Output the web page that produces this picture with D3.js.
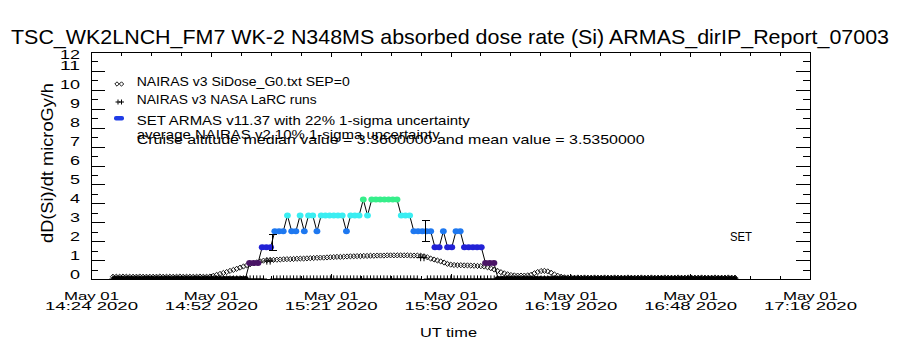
<!DOCTYPE html>
<html>
<head>
<meta charset="utf-8">
<script src="https://cdn.jsdelivr.net/npm/d3@7"></script>
<style>
  body { margin: 0; background: #fff; }
  svg { display: block; }
  text { font-family: "Liberation Sans", "DejaVu Sans", sans-serif; fill: #000; }
</style>
</head>
<body>
<svg id="chart" width="900" height="350"></svg>
<script>
// ---------------- DATA ----------------
const titleText = "TSC_WK2LNCH_FM7 WK-2 N348MS absorbed dose rate (Si) ARMAS_dirIP_Report_07003";
const yTitle = "dD(Si)/dt microGy/h";
const xTitle = "UT time";
const timeDomain = [24, 196];            // minutes after 14:00 UT
const yDomain = [0, 12];
const xTickTimes = ["14:24", "14:52", "15:21", "15:50", "16:19", "16:48", "17:16"];
const xTickDate = "May 01";
const xTickYear = "2020";
const yTickLabels = [0, 1, 2, 3, 4, 5, 6, 7, 8, 9, 10, 11, 12];

// NAIRAS v3 SiDose_G0 (diamonds), sampled every nairasStep minutes from nairasStart
const nairasStart = 29.26, nairasStep = 0.8;
const nairasValues = [
  0.12,0.12,0.12,0.13,0.12,0.12,0.12,0.12,0.13,0.12,
  0.12,0.12,0.12,0.12,0.13,0.12,0.12,0.12,0.12,0.12,
  0.13,0.12,0.12,0.12,0.12,0.12,0.13,0.12,0.12,0.13,
  0.17,0.22,0.27,0.32,0.37,0.43,0.48,0.54,0.60,0.66,
  0.72,0.78,0.83,0.88,0.93,0.97,0.99,1.00,1.01,1.02,
  1.03,1.04,1.05,1.05,1.06,1.07,1.08,1.08,1.09,1.10,
  1.11,1.12,1.13,1.13,1.14,1.15,1.16,1.17,1.17,1.18,
  1.19,1.20,1.20,1.21,1.21,1.22,1.22,1.23,1.23,1.24,
  1.24,1.24,1.25,1.25,1.25,1.25,1.25,1.25,1.25,1.24,
  1.24,1.24,1.23,1.20,1.15,1.08,1.03,0.98,0.93,0.87,
  0.80,0.76,0.74,0.73,0.73,0.72,0.72,0.71,0.70,0.69,
  0.68,0.66,0.62,0.57,0.50,0.43,0.36,0.30,0.25,0.21,
  0.19,0.18,0.18,0.18,0.19,0.22,0.30,0.37,0.42,0.43,
  0.40,0.33,0.24,0.17,0.12,0.09,0.08,0.08,0.07,0.08,
  0.07,0.08,0.07,0.07,0.08,0.07,0.07,0.08,0.07,0.07,
  0.08,0.07,0.07,0.07,0.08,0.07,0.07,0.07,0.08,0.07,
  0.07,0.08,0.07,0.07,0.07,0.08,0.07,0.07,0.07,0.08,
  0.07,0.07,0.08,0.07,0.07,0.07,0.08,0.07,0.07,0.07,
  0.08,0.07,0.07,0.07,0.08,0.07,0.07
];

// NAIRAS v3 NASA LaRC runs (pluses), same time grid as NAIRAS SiDose
const larcValues = [
  0,0,0,0,0,0,0,0,0,0,
  0,0,0,0,0,0,0,0,0,0,
  0,0,0,0,0,0,0,0,0,0,
  0,0,0,0,0,0,0,0,0,0,
  0,0,0,0,0,0,0.95,0.95,0,0,
  0,0,0,0,0,0,0,0,0,0,
  0,0,0,0,0,0,0,0,0,0,
  0,0,0,0,0,0,0,0,0,0,
  0,0,0,0,0,0,0,0,0,0,
  0,0,1.13,1.13,0,0,0,0,0,0,
  0,0,0,0,0,0,0,0,0,0,
  0,0,0,0,0,0,0,0,0,0,
  0,0,0,0,0,0,0,0,0,0,
  0,0,0,0,0,0,0,0,0,0,
  0,0,0,0,0,0,0,0,0,0,
  0,0,0,0,0,0,0,0,0,0,
  0,0,0,0,0,0,0,0,0,0,
  0,0,0,0,0,0,0,0,0,0,
  0,0,0,0,0,0,0
];

// SET ARMAS v11.37 (one record every setStep minutes from setStart)
const setStart = 29.67, setStep = 1.008;
const setValues = [
  0,0,0,0,0,0,0,0,0,0, 0,0,0,0,0,0,0,0,0,0, 0,0,0,0,0,0,0,0,0,0, 0,0,
  0.84,0.84,0.84,1.68,1.68,1.68,2.52,2.52,2.52,3.36,
  2.52,2.52,3.36,2.52,3.36,3.36,2.52,3.36,3.36,3.36,
  3.36,3.36,3.36,2.52,3.36,3.36,3.36,4.20,3.36,4.20,
  4.20,4.20,4.20,4.20,4.20,4.20,3.36,3.36,3.36,2.52,
  2.52,2.52,2.52,2.52,1.68,1.68,2.52,1.68,1.68,2.52,
  2.52,1.68,1.68,1.68,1.68,1.68,0.84,0.84,0.84,
  0,0,0,0,0,0,0,0,0,0, 0,0,0,0,0,0,0,0,0,0, 0,0,0,0,0,0,0,0,0,0,
  0,0,0,0,0,0,0,0,0,0, 0,0,0,0,0,0,0,0,0,0, 0,0,0,0,0,0,0
];
const setLevels = [0, 0.84, 1.68, 2.52, 3.36, 4.20];

// 22% 1-sigma uncertainty bars
const errTimes = [67.23, 103.9];
const errValues = [1.93, 2.52];
const errSigmas = [0.42, 0.55];

const legendLabels = [
  "NAIRAS v3 SiDose_G0.txt SEP=0",
  "NAIRAS v3 NASA LaRC runs",
  "SET ARMAS v11.37 with 22% 1-sigma uncertainty",
  "average NAIRAS v2 10% 1-sigma uncertainty",
  "Cruise altitude median value = 3.3600000 and mean value = 3.5350000"
];
const setTag = "SET";

// ---------------- STYLE ----------------
const levelColors = ["#000000", "#4a1466", "#2222d6", "#1e78f0", "#3aeef2", "#36ee8a"];
const legendDashColor = "#1f3ce6";

// ---------------- DRAW ----------------
const svg = d3.select("#chart");
const L = 91, R = 810, T = 52, B = 279;
const x = d3.scaleLinear().domain(timeDomain).range([L, R]);
const y = d3.scaleLinear().domain(yDomain).range([B, T]);
const levelColor = d3.scaleOrdinal().domain(setLevels).range(levelColors);

svg.append("rect").attr("width", 900).attr("height", 350).attr("fill", "#fff");
svg.append("defs").append("clipPath").attr("id", "clip")
  .append("rect").attr("x", L).attr("y", T).attr("width", R - L + 1).attr("height", B - T + 1);

function stretchedText(sel, len) {
  return sel.attr("textLength", len).attr("lengthAdjust", "spacingAndGlyphs");
}

// title
stretchedText(svg.append("text").attr("x", 450).attr("y", 44).attr("text-anchor", "middle")
  .attr("font-size", 21), 878).text(titleText);

// axes ticks
const nMaj = xTickTimes.length - 1;
const xMajor = d3.range(nMaj + 1).map(i => timeDomain[0] + i * (timeDomain[1] - timeDomain[0]) / nMaj);
const xMinor = d3.range(nMaj * 4 + 1).map(i => timeDomain[0] + i * (timeDomain[1] - timeDomain[0]) / (nMaj * 4)).filter((d, i) => i % 4 !== 0);
const yMajor = yTickLabels;
const yMinor = d3.range(yDomain[0], yDomain[1]).map(v => v + 0.5);

function tickAxis(gen, tr, vals, size) {
  const g = svg.append("g").attr("transform", tr)
    .call(gen.tickValues(vals).tickSize(size).tickFormat(""));
  g.select(".domain").remove();
  g.selectAll("line").attr("stroke", "#000").attr("shape-rendering", "crispEdges");
  return g;
}
tickAxis(d3.axisBottom(x), `translate(0,${B})`, xMajor, -5);
tickAxis(d3.axisBottom(x), `translate(0,${B})`, xMinor, -3.5);
tickAxis(d3.axisTop(x), `translate(0,${T})`, xMajor, -5);
tickAxis(d3.axisTop(x), `translate(0,${T})`, xMinor, -3.5);
tickAxis(d3.axisLeft(y), `translate(${L},0)`, yMajor, -14.4);
tickAxis(d3.axisLeft(y), `translate(${L},0)`, yMinor, -7.2);
tickAxis(d3.axisRight(y), `translate(${R},0)`, yMajor, -14.4);
tickAxis(d3.axisRight(y), `translate(${R},0)`, yMinor, -7.2);

svg.append("rect").attr("x", L + 0.5).attr("y", T + 0.5).attr("width", R - L).attr("height", B - T)
  .attr("fill", "none").attr("stroke", "#000").attr("shape-rendering", "crispEdges");

// x tick labels
xMajor.forEach((t, i) => {
  const cx = x(t) + 0.5;
  stretchedText(svg.append("text").attr("x", cx).attr("y", 300).attr("text-anchor", "middle")
    .attr("font-size", 11.5), 55).text(xTickDate);
  stretchedText(svg.append("text").attr("x", cx).attr("y", 309.5).attr("text-anchor", "middle")
    .attr("font-size", 11.5), 93).text(xTickTimes[i] + " " + xTickYear);
});

// y tick labels
yMajor.forEach(v => {
  const s = String(v);
  stretchedText(svg.append("text").attr("x", 80).attr("y", Math.max(y(v) - 0.5, T + 7))
    .attr("text-anchor", "end").attr("font-size", 13.5), 10 * s.length).text(s);
});

// axis titles
stretchedText(svg.append("text").attr("transform", "translate(53,163) rotate(-90)").attr("text-anchor", "middle")
  .attr("font-size", 16), 160).text(yTitle);
stretchedText(svg.append("text").attr("x", 448.5).attr("y", 337).attr("text-anchor", "middle")
  .attr("font-size", 12.5), 57).text(xTitle);

// data layer
const plot = svg.append("g").attr("clip-path", "url(#clip)");
const diamond = (h) => `M0,${-h}L${h},0L0,${h}L${-h},0Z`;
const plus = (h) => `M${-h},0H${h}M0,${-h}V${h}`;

plot.selectAll(".dia").data(nairasValues).join("path")
  .attr("d", diamond(2.6))
  .attr("transform", (v, i) => `translate(${x(nairasStart + i * nairasStep)},${y(v)})`)
  .attr("fill", "none").attr("stroke", "#000").attr("stroke-width", 0.9);

plot.selectAll(".pl").data(larcValues).join("path")
  .attr("d", plus(3.6))
  .attr("transform", (v, i) => `translate(${x(nairasStart + i * nairasStep)},${y(v)})`)
  .attr("fill", "none").attr("stroke", "#000").attr("stroke-width", 1);

const setPts = setValues.map((v, i) => ({ t: setStart + i * setStep, v }));
plot.append("path").datum(setPts)
  .attr("d", d3.line().x(d => x(d.t)).y(d => y(d.v)))
  .attr("fill", "none").attr("stroke", "#000").attr("stroke-width", 1);
plot.selectAll(".setp").data(setPts).join("ellipse")
  .attr("cx", d => x(d.t)).attr("cy", d => y(d.v))
  .attr("rx", 3.4).attr("ry", 3).attr("fill", d => levelColor(d.v));

// error bars
errTimes.forEach((t, i) => {
  const cx = Math.round(x(t)) + 0.5;
  const y1 = y(errValues[i] + errSigmas[i]), y2 = y(errValues[i] - errSigmas[i]);
  const g = plot.append("g").attr("stroke", "#000").attr("stroke-width", 1).attr("shape-rendering", "crispEdges");
  g.append("line").attr("x1", cx).attr("x2", cx).attr("y1", y1).attr("y2", y2);
  g.append("line").attr("x1", cx - 4).attr("x2", cx + 4).attr("y1", y1).attr("y2", y1);
  g.append("line").attr("x1", cx - 4).attr("x2", cx + 4).attr("y1", y2).attr("y2", y2);
});

// SET tag
stretchedText(svg.append("text").attr("x", 730).attr("y", 241).attr("font-size", 12), 22).text(setTag);

// legend
const legBase = [86, 104.3, 125, 138.5, 143.5];
const legLen = [213, 180, 333, 303, 508];
legendLabels.forEach((s, i) => {
  stretchedText(svg.append("text").attr("x", 136.7).attr("y", legBase[i]).attr("font-size", 13), legLen[i]).text(s);
});
[117, 121.5].forEach(cx => {
  svg.append("path").attr("d", diamond(2.2)).attr("transform", `translate(${cx},84)`)
    .attr("fill", "none").attr("stroke", "#000").attr("stroke-width", 0.9);
});
[118, 121.5].forEach(cx => {
  svg.append("path").attr("d", plus(2.5)).attr("transform", `translate(${cx},102)`)
    .attr("fill", "none").attr("stroke", "#000").attr("stroke-width", 1);
});
svg.append("rect").attr("x", 114).attr("y", 116).attr("width", 10).attr("height", 4.5).attr("rx", 2)
  .attr("fill", legendDashColor);
</script>
</body>
</html>
